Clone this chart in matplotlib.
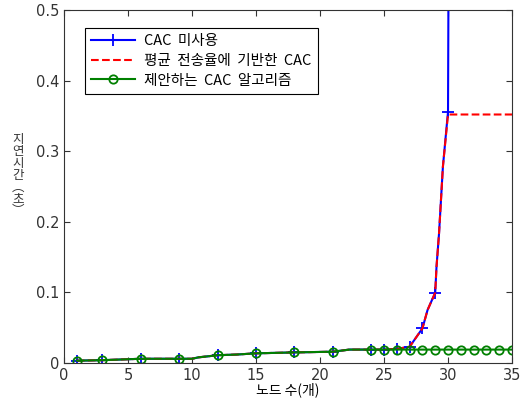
import matplotlib
matplotlib.use("Agg")
import matplotlib.pyplot as plt

plt.rcParams['font.family'] = ['Noto Sans CJK KR', 'DejaVu Sans']

# -------------------------
# Datos
# -------------------------
# CAC 미사용 (azul)
x_no_cac = [1, 3, 6, 9, 10, 10.5, 12, 13.5, 15, 18, 21, 22.3, 24, 25, 26, 27, 28, 28.4, 29, 29.1, 29.3, 29.6, 30, 30.05]
y_no_cac = [0.0033, 0.004, 0.006, 0.006, 0.006, 0.008, 0.011, 0.012, 0.0137, 0.015, 0.016, 0.019, 0.019, 0.019, 0.02,
            0.023, 0.049, 0.075, 0.0996, 0.136, 0.184, 0.278, 0.356, 0.6]
mark_no_cac = [1, 3, 6, 9, 12, 15, 18, 21, 24, 25, 26, 27, 28, 29, 30]

# 평균 전송율에 기반한 CAC (rojo)
x_avg = [1, 3, 6, 9, 10, 10.5, 12, 13.5, 15, 18, 21, 22.3, 24, 25, 26, 27, 28, 28.4, 29, 29.1, 29.3, 29.6, 30, 35]
y_avg = [0.0033, 0.004, 0.006, 0.006, 0.006, 0.008, 0.011, 0.012, 0.0137, 0.015, 0.016, 0.019, 0.019, 0.019, 0.02,
         0.023, 0.049, 0.075, 0.0996, 0.136, 0.184, 0.278, 0.352, 0.352]

# 제안하는 CAC 알고리즘 (verde)
x_prop = [1, 3, 6, 9, 10, 10.5, 12, 13.5, 15, 18, 21, 22.3, 24, 25, 26, 27, 28, 29, 30, 31, 32, 33, 34, 35]
y_prop = [0.0033, 0.004, 0.006, 0.006, 0.006, 0.008, 0.011, 0.012, 0.0137, 0.015, 0.016, 0.019, 0.019, 0.019, 0.019,
          0.019, 0.019, 0.019, 0.019, 0.019, 0.019, 0.019, 0.019, 0.019]
mark_prop = [1, 3, 6, 9, 12, 15, 18, 21, 24, 25, 26, 27, 28, 29, 30, 31, 32, 33, 34, 35]

labels = ["CAC  미사용", "평균  전송율에  기반한  CAC", "제안하는  CAC  알고리즘"]
x_ticks = [0, 5, 10, 15, 20, 25, 30, 35]
y_ticks = [0, 0.1, 0.2, 0.3, 0.4, 0.5]
ylabel_text = "\n".join(["지", "연", "시", "간", "︵", "초", "︶"])

fig = plt.figure(figsize=(5.23, 4.07), dpi=100)
ax = fig.add_axes([0.1224, 0.1081, 0.8566, 0.8673])

ax.plot(x_no_cac, y_no_cac, color="blue", lw=1.5, marker="+", ms=8, mew=1.3,
        markevery=[x_no_cac.index(v) for v in mark_no_cac], label=labels[0])
ax.plot(x_avg, y_avg, color="red", lw=1.5, ls="--", label=labels[1])
ax.plot(x_prop, y_prop, color="green", lw=1.5, marker="o", ms=6, mew=1.3, mfc="none",
        markevery=[x_prop.index(v) for v in mark_prop], label=labels[2])

ax.set_xlim(0, 35)
ax.set_ylim(0, 0.5)
ax.set_xticks(x_ticks)
ax.set_yticks(y_ticks)
ax.set_yticklabels(["0", "0.1", "0.2", "0.3", "0.4", "0.5"])
ax.tick_params(direction="in", top=True, right=True, labelsize=11, colors="#333333", length=4)
for lbl in ax.get_xticklabels() + ax.get_yticklabels():
    lbl.set_family("DejaVu Sans")
    lbl.set_fontsize(10.5)
for s in ax.spines.values():
    s.set_color("#333333")

ax.set_xlabel("노드 수(개)", fontsize=10, labelpad=0)

# etiqueta Y vertical (caracteres apilados)
fig.text(0.034, 0.57, ylabel_text, fontsize=9, ha="center", va="center",
         linespacing=0.88, color="#333333")

leg = ax.legend(loc="upper left", bbox_to_anchor=(0.03, 0.97), fontsize=10.5, fancybox=False,
                edgecolor="black", framealpha=1, handlelength=3.0, borderpad=0.45, labelspacing=0.38,
                handletextpad=0.6)
leg.get_frame().set_linewidth(0.8)

fig.savefig("out.png", dpi=100)
